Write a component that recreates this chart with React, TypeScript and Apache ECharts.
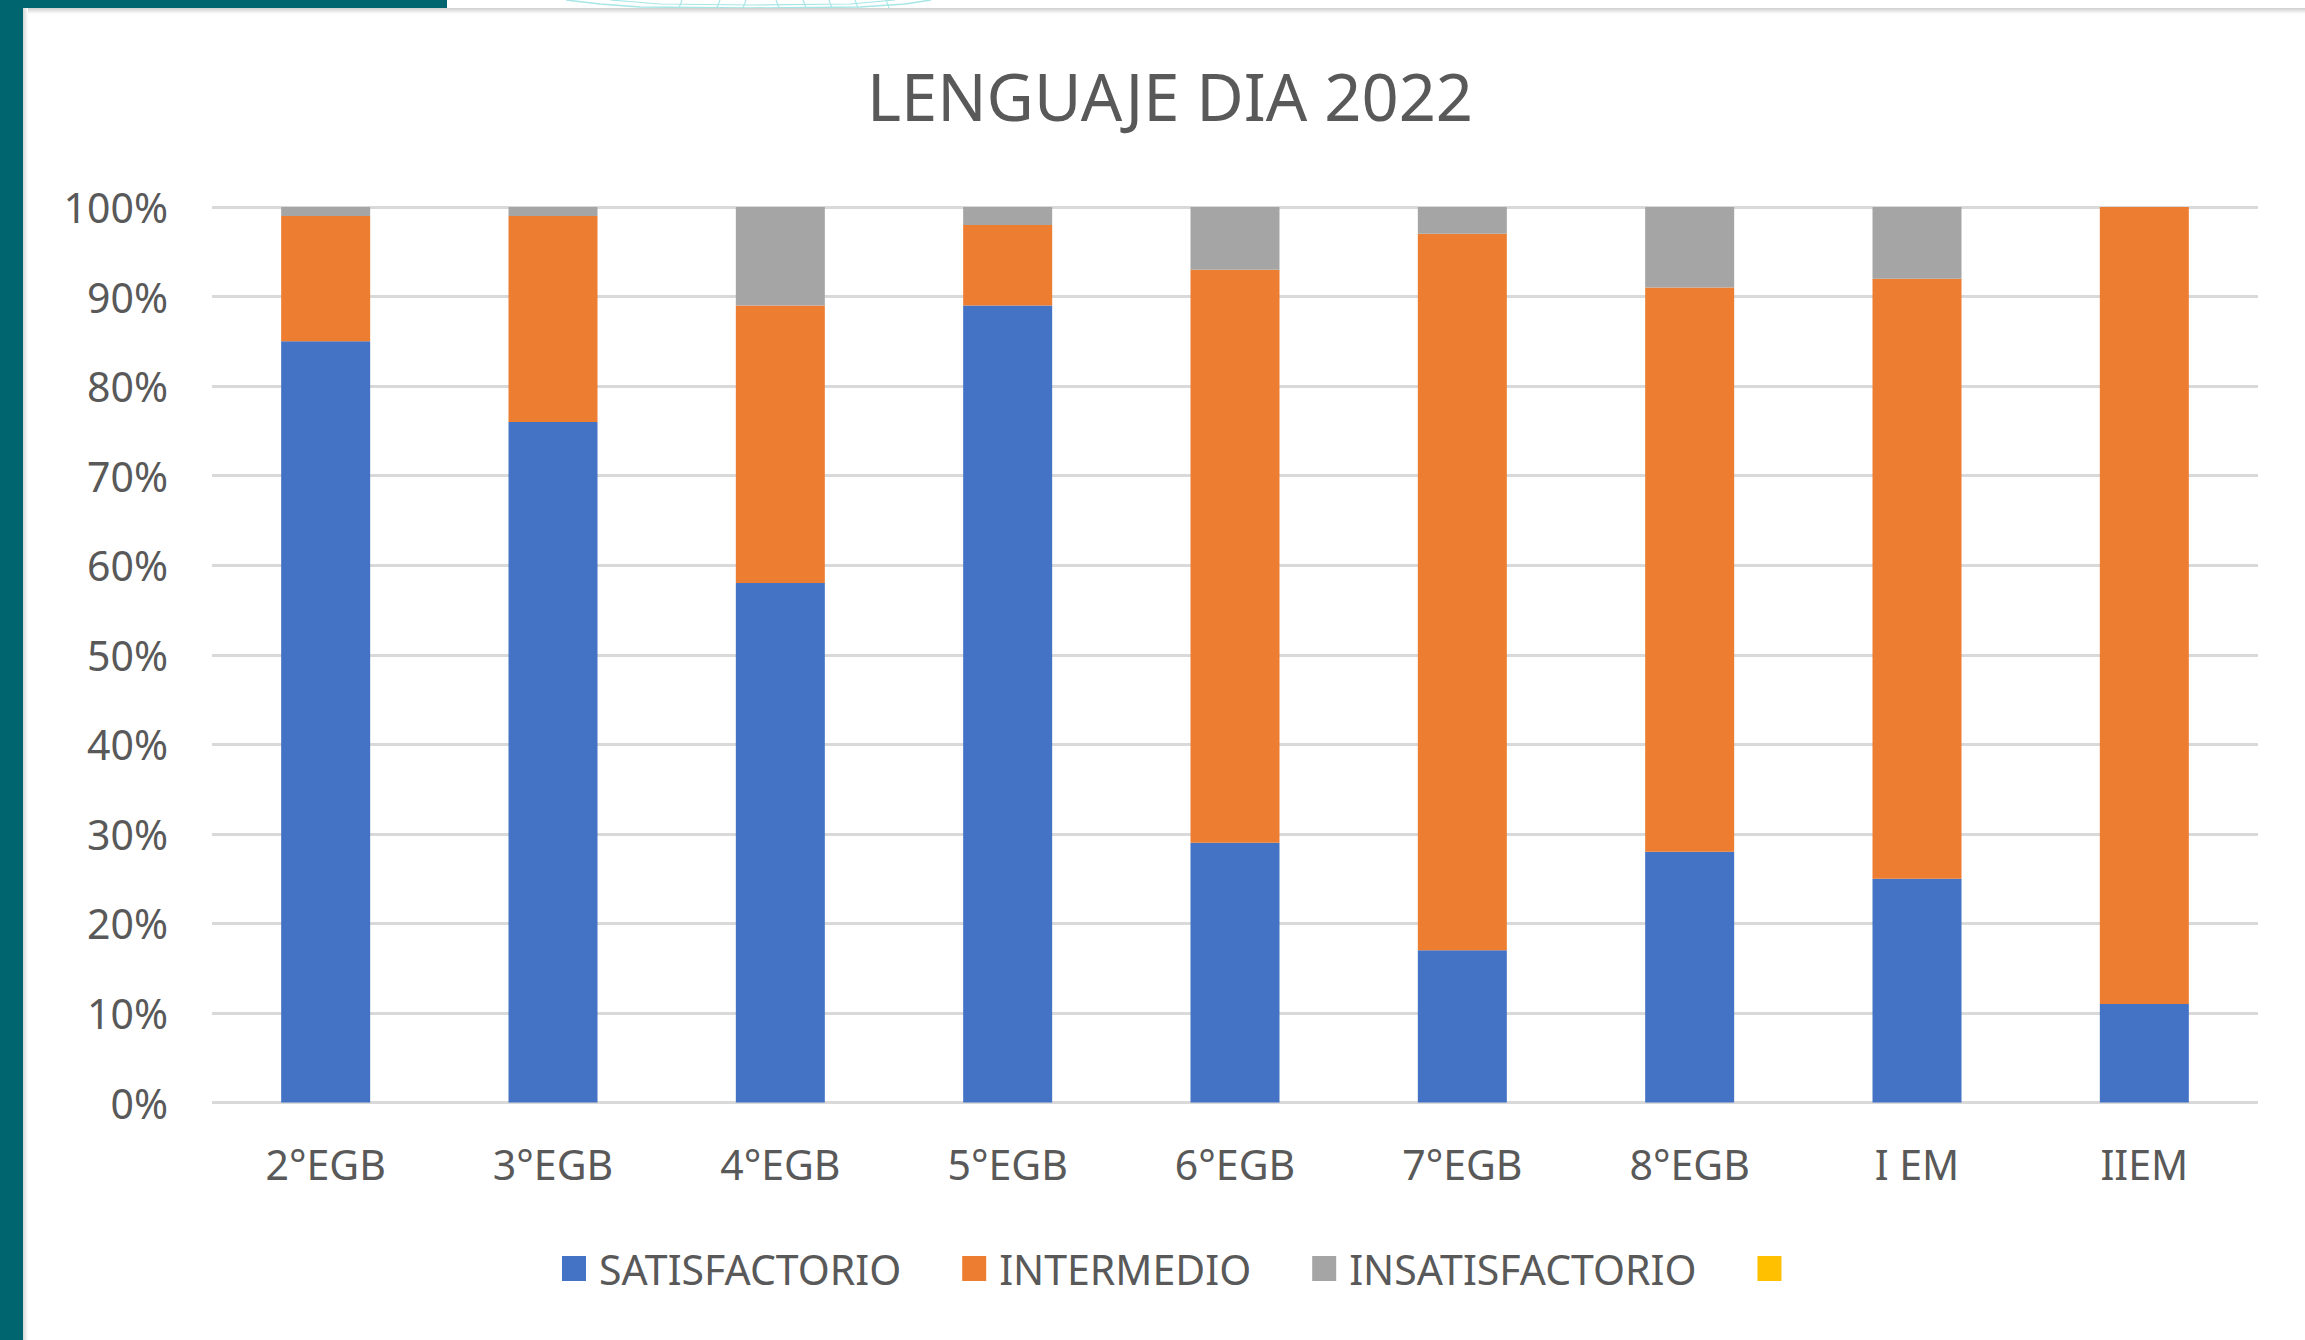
import React, { useEffect, useRef } from "react";
import * as echarts from "echarts";

const categories = ["2°EGB", "3°EGB", "4°EGB", "5°EGB", "6°EGB", "7°EGB", "8°EGB", "I EM", "IIEM"];
const satisfactorio = [85, 76, 58, 89, 29, 17, 28, 25, 11];
const intermedio = [14, 23, 31, 9, 64, 80, 63, 67, 89];
const insatisfactorio = [1, 1, 11, 2, 7, 3, 9, 8, 0];
const extra: number[] = [];
const seriesNames = ["SATISFACTORIO", "INTERMEDIO", "INSATISFACTORIO", " "];
const seriesColors = ["#4472C4", "#ED7D31", "#A5A5A5", "#FFC000"];
const titleText = "LENGUAJE DIA 2022";

const FONT = "'Noto Sans', 'Open Sans', sans-serif";
const TEXT = "#595959";

export default function App() {
  const ref = useRef<HTMLDivElement>(null);
  useEffect(() => {
    if (!ref.current) return;
    const chart = echarts.init(ref.current, undefined, { renderer: "svg" });
    const values = [satisfactorio, intermedio, insatisfactorio, extra];
    const globeCol = "#A8E6E6";
    chart.setOption({
      animation: false,
      backgroundColor: "#ffffff",
      textStyle: { fontFamily: FONT },
      title: {
        text: titleText,
        left: 862,
        top: 58,
        textStyle: { fontFamily: FONT, fontSize: 65, fontWeight: "normal", color: TEXT },
      },
      legend: {
        left: 557,
        top: 1243,
        itemWidth: 24,
        itemHeight: 25,
        itemGap: 61,
        icon: "rect",
        selectedMode: false,
        data: seriesNames,
        textStyle: { fontFamily: FONT, fontSize: 41, color: TEXT, padding: [0, 0, 0, 8] },
      },
      grid: { left: 212, right: 47, top: 207, bottom: 237.5, containLabel: false },
      xAxis: {
        type: "category",
        data: categories,
        axisLine: { show: false },
        axisTick: { show: false },
        axisLabel: { fontFamily: FONT, fontSize: 41, color: TEXT, margin: 41 },
      },
      yAxis: {
        type: "value",
        min: 0,
        max: 100,
        interval: 10,
        axisLine: { show: false },
        axisTick: { show: false },
        axisLabel: { fontFamily: FONT, fontSize: 41, color: TEXT, margin: 44, formatter: "{value}%" },
        splitLine: { lineStyle: { color: "#D9D9D9", width: 3 } },
      },
      graphic: [
        // globe decoration at top
        {
          type: "polyline",
          shape: { points: [[566, 0], [600, 4], [640, 7], [750, 8], [860, 7], [905, 4], [931, 0]] },
          style: { stroke: globeCol, lineWidth: 1.5, fill: null },
        },
        ...[682, 720, 746, 776, 803, 829, 855, 886].map((x) => ({
          type: "line",
          shape: { x1: x, y1: 0, x2: x + (x < 750 ? -3 : 3), y2: 8 },
          style: { stroke: globeCol, lineWidth: 1.2 },
        })),
        {
          type: "polyline",
          shape: { points: [[610, 0], [660, 4], [750, 5], [850, 4], [895, 0]] },
          style: { stroke: globeCol, lineWidth: 1.2, fill: null },
        },
        // teal borders
        { type: "rect", shape: { x: 0, y: 0, width: 23, height: 1340 }, style: { fill: "#00656F" } },
        { type: "rect", shape: { x: 0, y: 0, width: 447, height: 8 }, style: { fill: "#00656F" } },
        // shadows of white panel
        {
          type: "rect",
          shape: { x: 23, y: 8, width: 2282, height: 6 },
          style: {
            fill: new echarts.graphic.LinearGradient(0, 0, 0, 1, [
              { offset: 0, color: "#CFCFCF" },
              { offset: 1, color: "#FFFFFF" },
            ]),
          },
        },
        {
          type: "rect",
          shape: { x: 23, y: 8, width: 5, height: 1332 },
          style: {
            fill: new echarts.graphic.LinearGradient(0, 0, 1, 0, [
              { offset: 0, color: "#D6D6D6" },
              { offset: 1, color: "#FFFFFF" },
            ]),
          },
        },
      ],
      series: seriesNames.map((name, i) => ({
        name,
        type: "bar",
        stack: "total",
        barWidth: 89,
        data: values[i],
        itemStyle: { color: seriesColors[i] },
        emphasis: { disabled: true },
      })),
    });
    return () => chart.dispose();
  }, []);
  return (
    <div
      ref={ref}
      style={{ position: "fixed", left: 0, top: 0, width: 2305, height: 1340 }}
    />
  );
}
